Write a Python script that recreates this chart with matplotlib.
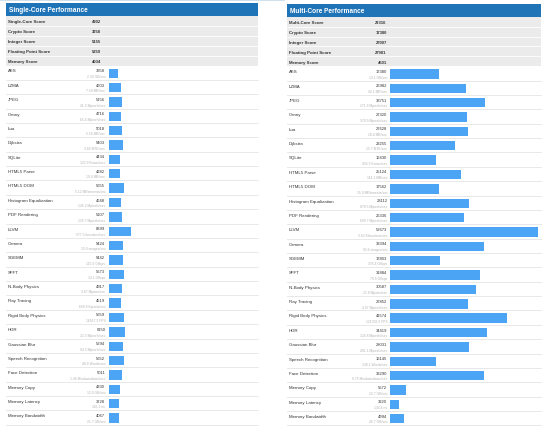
import matplotlib
matplotlib.use("Agg")
import matplotlib.pyplot as plt
from matplotlib.patches import Rectangle

plt.rcParams['font.family'] = ['Liberation Sans', 'DejaVu Sans']

# ---------------- data ----------------
benchmarks = ["AES", "LZMA", "JPEG", "Canny", "Lua", "Dijkstra", "SQLite",
              "HTML5 Parse", "HTML5 DOM", "Histogram Equalization",
              "PDF Rendering", "LLVM", "Camera", "SGEMM", "SFFT",
              "N-Body Physics", "Ray Tracing", "Rigid Body Physics", "HDR",
              "Gaussian Blur", "Speech Recognition", "Face Detection",
              "Memory Copy", "Memory Latency", "Memory Bandwidth"]

single_title = "Single-Core Performance"
single_summary_labels = ["Single-Core Score", "Crypto Score", "Integer Score",
                         "Floating Point Score", "Memory Score"]
single_summary_values = [4902, 3358, 5155, 5359, 4034]
single_scores = [3358, 4603, 5156, 4716, 5018, 5403, 4434, 4282, 5655, 4648,
                 5107, 8399, 5424, 5442, 5673, 4917, 4519, 5659, 6150, 5294,
                 5652, 5011, 4330, 3728, 4067]
single_sub = ["2.33 GB/sec", "7.18 MB/sec", "41.5 Mpixels/sec", "65.4 Mpixels/sec",
              "5.16 MB/sec", "3.66 MTE/sec", "122.9 Krows/sec", "19.4 MB/sec",
              "5.12 MElements/sec", "145.2 Mpixels/sec", "135.7 Mpixels/sec",
              "577.5 functions/sec", "15.0 images/sec", "115.0 Gflops",
              "14.1 Gflops", "3.67 Mpairs/sec", "658.9 Kpixels/sec",
              "16567.3 FPS", "22.3 Mpixels/sec", "94.5 Mpixels/sec",
              "48.4 Words/sec", "1.46 Msubwindows/sec", "12.0 GB/sec",
              "116.1 ns", "21.7 GB/sec"]

multi_title = "Multi-Core Performance"
multi_summary_labels = ["Multi-Core Score", "Crypto Score", "Integer Score",
                        "Floating Point Score", "Memory Score"]
multi_summary_values = [22316, 17380, 27007, 27981, 4501]
multi_scores = [17380, 26982, 33751, 27320, 27628, 23255, 16430, 25124, 17562,
                28112, 26336, 52673, 33394, 17803, 31884, 30587, 27852, 41574,
                34419, 28031, 16145, 33290, 5672, 3220, 4994]
multi_sub = ["13.1 GB/sec", "42.1 MB/sec", "271.8 Mpixels/sec",
             "378.9 Mpixels/sec", "28.4 MB/sec", "15.7 MTE/sec",
             "455.5 Krows/sec", "114.1 MB/sec", "15.9 MElements/sec",
             "878.5 Mpixels/sec", "699.7 Mpixels/sec", "3.62 Kfunctions/sec",
             "92.6 images/sec", "376.4 Gflops", "79.5 Gflops",
             "22.8 Mpairs/sec", "4.07 Mpixels/sec", "121702.3 FPS",
             "124.8 Mpixels/sec", "491.1 Mpixels/sec", "138.1 Words/sec",
             "9.75 Msubwindows/sec", "15.7 GB/sec", "134.4 ns", "26.7 GB/sec"]

# ---------------- style / layout ----------------
W, H = 550, 427
HEADER_C = "#1f74b8"
SUMMARY_BG = "#ebebeb"
BAR_C = "#4ba4f4"
SEP_C = "#e4e4e4"
TEXT_C = "#333333"
SUB_C = "#b3b3b3"

fig = plt.figure(figsize=(W / 100, H / 100), dpi=100)
fig.patch.set_facecolor("white")
ov = fig.add_axes([0, 0, 1, 1])
ov.set_xlim(0, W)
ov.set_ylim(H, 0)
ov.axis("off")

# faint top strip
ov.add_patch(Rectangle((0, 0), 285, 1.6, color="#cfdfeb", lw=0))


def panel(L, R, dy, bar_x0, score_x, sum_x, xmax, title, s_labels, s_values,
          scores, subs):
    head_top, head_bot = 4 + dy, 17 + dy
    sum_h = 9.9
    rows_top = head_bot + 5 * sum_h
    row_h = 14.37
    n = len(benchmarks)

    # header
    ov.add_patch(Rectangle((L, head_top), R - L, head_bot - head_top,
                           color=HEADER_C, lw=0))
    ov.text(L + 3, (head_top + head_bot) / 2 + 0.3, title, color="white",
            fontsize=4.7, fontweight="bold", va="center", ha="left")

    # summary block
    ov.add_patch(Rectangle((L, head_bot), R - L, 5 * sum_h,
                           color=SUMMARY_BG, lw=0))
    for i, (lab, val) in enumerate(zip(s_labels, s_values)):
        y0 = head_bot + i * sum_h
        if i > 0:
            ov.plot([L, R], [y0, y0], color="white", lw=0.6)
        yc = y0 + sum_h / 2 + 0.5
        ov.text(L + 1.8, yc, lab, fontsize=3.2, fontweight="bold",
                color=TEXT_C, va="center", ha="left")
        ov.text(sum_x, yc, str(val), fontsize=3.0, fontweight="bold",
                color=TEXT_C, va="center", ha="right")

    # benchmark rows text + separators
    for i in range(n):
        y0 = rows_top + i * row_h
        ov.plot([L, R], [y0 + row_h, y0 + row_h], color=SEP_C, lw=0.6)
        ov.text(L + 1.8, y0 + 5.0, benchmarks[i], fontsize=3.2,
                color=TEXT_C, va="center", ha="left")
        ov.text(score_x, y0 + 4.7, str(scores[i]), fontsize=3.0,
                color=TEXT_C, va="center", ha="right")
        ov.text(score_x, y0 + 10.4, subs[i], fontsize=2.4,
                color=SUB_C, va="center", ha="right")

    # bars in their own axes (score scale)
    rows_bot = rows_top + n * row_h
    bx = fig.add_axes([bar_x0 / W, 1 - rows_bot / H, (R - bar_x0) / W,
                       (rows_bot - rows_top) / H])
    bx.patch.set_alpha(0)
    off = 7.7 / row_h
    bx.set_ylim(n - off, -off)
    bx.set_xlim(0, xmax)
    bx.barh(range(n), scores, height=9.4 / row_h, color=BAR_C, lw=0)
    bx.axis("off")


panel(6, 258, 0.0, 108.7, 105.3, 100.7, 56300, single_title,
      single_summary_labels, single_summary_values, single_scores, single_sub)
panel(287, 541, 0.7, 390.3, 387.3, 386.7, 53800, multi_title,
      multi_summary_labels, multi_summary_values, multi_scores, multi_sub)

fig.savefig("out.png", dpi=100, facecolor="white")
